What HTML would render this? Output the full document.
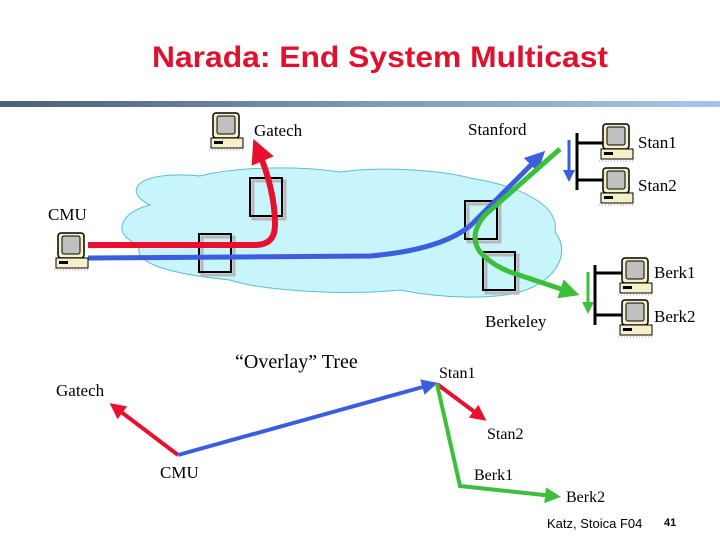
<!DOCTYPE html>
<html><head><style>
html,body{margin:0;padding:0;background:#fff;}
body{width:720px;height:540px;overflow:hidden;position:relative;}
</style></head><body>
<svg width="720" height="540" viewBox="0 0 720 540" xmlns="http://www.w3.org/2000/svg" style="position:absolute;left:0;top:0">
<defs>
<linearGradient id="bar" x1="0" x2="1" y1="0" y2="0">
<stop offset="0" stop-color="#4a5f78"/><stop offset="0.5" stop-color="#7d97b8"/><stop offset="1" stop-color="#a8c6ea"/>
</linearGradient>
<g id="pc">
<rect x="3" y="0" width="26" height="25" rx="3" fill="#f6f0c8" stroke="#000" stroke-width="1.5"/>
<rect x="7" y="3" width="18" height="18" rx="2" fill="#c0c0c0" stroke="#000" stroke-width="1"/>
<rect x="1" y="25" width="32" height="10" fill="#f6f0c8" stroke="#000" stroke-width="1"/>
<rect x="4" y="28" width="9" height="3" fill="#000"/>
<line x1="-1" y1="37" x2="35" y2="37" stroke="#b090c0" stroke-dasharray="1,2"/>
</g>
<marker id="ar" markerWidth="4" markerHeight="4" refX="2" refY="2" orient="auto" markerUnits="strokeWidth"><path d="M0,0L4,2L0,4z" fill="#e8102e"/></marker>
<marker id="ab" markerWidth="4" markerHeight="4" refX="2" refY="2" orient="auto" markerUnits="strokeWidth"><path d="M0,0L4,2L0,4z" fill="#3a5ee0"/></marker>
<marker id="ag" markerWidth="4" markerHeight="4" refX="2" refY="2" orient="auto" markerUnits="strokeWidth"><path d="M0,0L4,2L0,4z" fill="#3cc03c"/></marker>
</defs>
<text x="152" y="67" textLength="456" lengthAdjust="spacingAndGlyphs" font-family="Liberation Sans, sans-serif" font-size="30" font-weight="bold" fill="#e0102e">Narada: End System Multicast</text>
<rect x="0" y="101" width="720" height="6" fill="url(#bar)"/>

<path d="M150,205 C120,190 140,170 200,176 C240,166 300,166 340,172 C380,166 440,170 470,178 C520,186 560,205 555,232 C570,250 560,280 520,292 C490,300 440,298 400,290 C340,296 260,290 230,280 C180,275 130,265 140,245 C110,235 120,212 150,205Z" fill="#c8f4fc" stroke="#58c0d0" stroke-width="1"/>

<g fill="none" stroke="#b8b8b8" stroke-width="3">
<rect x="253" y="181" width="32" height="38"/>
<rect x="202" y="237" width="32" height="38"/>
<rect x="468" y="204" width="32" height="38"/>
<rect x="486" y="255" width="32" height="38"/>
</g>
<g fill="none" stroke="#000" stroke-width="2">
<rect x="250" y="178" width="32" height="38"/>
<rect x="199" y="234" width="32" height="38"/>
<rect x="465" y="201" width="32" height="38"/>
<rect x="483" y="252" width="32" height="38"/>
</g>

<path d="M88,245 L255,245 Q275,245 275,225 Q275,190 258,150" fill="none" stroke="#e8102e" stroke-width="6" marker-end="url(#ar)"/>
<path d="M88,258 L370,256 Q440,250 470,226 L538,158" fill="none" stroke="#3a5ee0" stroke-width="5" marker-end="url(#ab)"/>
<path d="M560,149 L485,215 Q468,235 480,252 Q492,265 510,272 L570,292" fill="none" stroke="#3cc03c" stroke-width="5" marker-end="url(#ag)"/>

<g stroke="#000" stroke-width="3">
<line x1="577" y1="133" x2="577" y2="190"/>
<line x1="577" y1="143" x2="603" y2="143"/>
<line x1="577" y1="180" x2="603" y2="180"/>
<line x1="595" y1="265" x2="595" y2="325"/>
<line x1="595" y1="273" x2="622" y2="273"/>
<line x1="595" y1="315" x2="622" y2="315"/>
</g>
<path d="M569,140 L569,176" stroke="#3a5ee0" stroke-width="3" marker-end="url(#ab)"/>
<path d="M588,272 L588,308" stroke="#3cc03c" stroke-width="3" marker-end="url(#ag)"/>

<use href="#pc" x="210" y="113"/>
<use href="#pc" x="600" y="124"/>
<use href="#pc" x="600" y="168"/>
<use href="#pc" x="55" y="233"/>
<use href="#pc" x="619" y="258"/>
<use href="#pc" x="619" y="300"/>

<g font-family="Liberation Serif, serif" font-size="17" fill="#000">
<text x="254" y="136">Gatech</text>
<text x="468" y="135">Stanford</text>
<text x="638" y="148">Stan1</text>
<text x="638" y="191">Stan2</text>
<text x="48" y="220">CMU</text>
<text x="654" y="278">Berk1</text>
<text x="654" y="322">Berk2</text>
<text x="485" y="327">Berkeley</text>
<text x="235" y="368" font-size="20">“Overlay” Tree</text>
<text x="56" y="396">Gatech</text>
<text x="160" y="478">CMU</text>
<text x="439" y="378" font-size="16">Stan1</text>
<text x="487" y="439" font-size="16">Stan2</text>
<text x="474" y="480" font-size="16">Berk1</text>
<text x="566" y="502" font-size="16">Berk2</text>
</g>

<path d="M178,455 L116,408" stroke="#e8102e" stroke-width="4" marker-end="url(#ar)"/>
<path d="M178,455 L430,385" stroke="#3a5ee0" stroke-width="4" marker-end="url(#ab)"/>
<path d="M437,384 L480,416" stroke="#e8102e" stroke-width="4" marker-end="url(#ar)"/>
<path d="M437,384 L460,486 L553,496" fill="none" stroke="#3cc03c" stroke-width="4" marker-end="url(#ag)"/>

<text x="547" y="528" font-family="Liberation Sans, sans-serif" font-size="13">Katz, Stoica F04</text>
<text x="664" y="526" font-family="Liberation Sans, sans-serif" font-size="11" font-weight="bold">41</text>
</svg>
</body></html>
